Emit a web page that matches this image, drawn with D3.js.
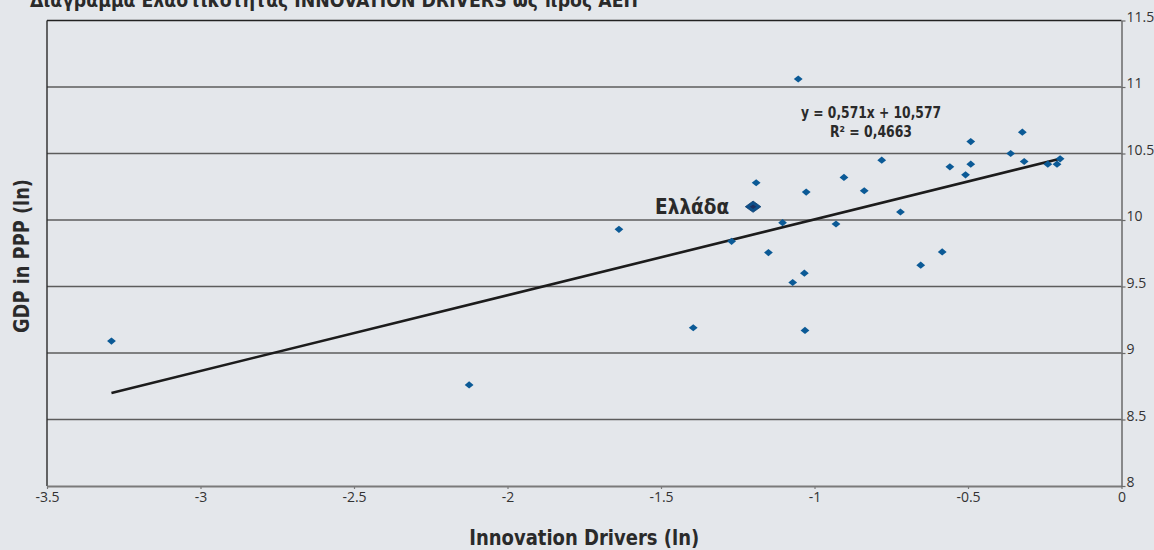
<!DOCTYPE html>
<html>
<head>
<meta charset="utf-8">
<script src="https://cdn.jsdelivr.net/npm/d3@7"></script>
<style>
  html, body { margin: 0; padding: 0; background: #e4e7eb; }
  svg { display: block; }
</style>
</head>
<body>
<svg id="chart" width="1154" height="550"></svg>
<script>
// ---- data ----
const title = "Διάγραμμα Ελαστικότητας INNOVATION DRIVERS ως προς ΑΕΠ";
const xTitle = "Innovation Drivers (ln)";
const yTitle = "GDP in PPP (ln)";
const xTicks = [-3.5, -3, -2.5, -2, -1.5, -1, -0.5, 0];
const xTickLabels = ["-3.5", "-3", "-2.5", "-2", "-1.5", "-1", "-0.5", "0"];
const yTicks = [8, 8.5, 9, 9.5, 10, 10.5, 11, 11.5];
const yTickLabels = ["8", "8.5", "9", "9.5", "10", "10.5", "11", "11.5"];

const innovation = [-3.29, -2.125, -1.053, -0.323, -0.491, -0.361, -0.317, -0.491,
  -0.24, -0.21, -0.20, -0.559, -0.508, -0.781, -0.904, -0.838, -1.027, -1.19,
  -0.72, -1.104, -0.93, -1.637, -1.27, -1.15, -1.033, -1.071, -0.654, -0.584,
  -1.395, -1.031];
const gdp = [9.09, 8.76, 11.06, 10.66, 10.59, 10.50, 10.44, 10.42,
  10.42, 10.42, 10.46, 10.40, 10.34, 10.45, 10.32, 10.22, 10.21, 10.28,
  10.06, 9.98, 9.97, 9.93, 9.84, 9.755, 9.60, 9.53, 9.66, 9.76,
  9.19, 9.17];
const greeceName = ["Ελλάδα"];
const greeceX = [-1.20];
const greeceY = [10.10];

const trendX = [-3.29, -0.20];
const trendY = [8.70, 10.46];
const equationLines = ["y = 0,571x + 10,577", "R² = 0,4663"];

// ---- drawing ----
const svg = d3.select("#chart");
const x = d3.scaleLinear().domain([-3.5, 0]).range([47, 1121.5]);
const y = d3.scaleLinear().domain([8, 11.5]).range([486, 20.5]);
const ink = "#2a2a2a";
const narrow = "'Liberation Sans Narrow','DejaVu Sans Condensed','Open Sans',sans-serif";

// title (partly cut off at the top in the reference)
svg.append("text")
  .attr("x", 30).attr("y", 7)
  .attr("textLength", 608).attr("lengthAdjust", "spacingAndGlyphs")
  .style("font-family", narrow)
  .style("font-weight", "bold").style("font-size", "19px")
  .attr("fill", ink).text(title);

// gridlines
svg.append("g").selectAll("line").data(yTicks.filter(d => d > 8)).join("line")
  .attr("x1", x(-3.5)).attr("x2", x(0))
  .attr("y1", d => y(d)).attr("y2", d => y(d))
  .attr("stroke", d => d === 11.5 ? "#222" : "#5c5c5c")
  .attr("stroke-width", d => d === 11.5 ? 1.6 : 1.3);

// left border
svg.append("line")
  .attr("x1", x(-3.5)).attr("x2", x(-3.5)).attr("y1", y(11.5)).attr("y2", y(8))
  .attr("stroke", "#2a2a2a").attr("stroke-width", 1.4);

// bottom axis
const xAxis = svg.append("g").attr("transform", `translate(0,${y(8)})`)
  .call(d3.axisBottom(x).tickValues(xTicks).tickSize(3).tickSizeOuter(0)
    .tickFormat((d, i) => xTickLabels[i]));
xAxis.select(".domain").attr("stroke", "#7a7a7a").attr("stroke-width", 2);
xAxis.selectAll(".tick line").attr("stroke", "#7a7a7a").attr("stroke-width", 1.2);
xAxis.selectAll(".tick text")
  .attr("y", 6).attr("dy", "0.71em")
  .style("font-family", "'Open Sans',sans-serif").style("font-size", "14px")
  .attr("fill", "#333");

// right axis
const yAxis = svg.append("g").attr("transform", `translate(${x(0)},0)`)
  .call(d3.axisRight(y).tickValues(yTicks).tickSize(4).tickSizeOuter(0)
    .tickFormat((d, i) => yTickLabels[i]));
yAxis.select(".domain").attr("stroke", "#6a6a6a").attr("stroke-width", 1.5);
yAxis.selectAll(".tick line").attr("stroke", "#6a6a6a").attr("stroke-width", 1.2);
yAxis.selectAll(".tick text")
  .attr("x", 5).attr("dy", "0.05em")
  .style("font-family", "'Open Sans',sans-serif").style("font-size", "14px")
  .attr("fill", "#333");

// trendline
svg.append("path")
  .datum(trendX.map((d, i) => [d, trendY[i]]))
  .attr("d", d3.line().x(d => x(d[0])).y(d => y(d[1])))
  .attr("fill", "none").attr("stroke", "#1c1c1c").attr("stroke-width", 2.6);

// points (diamonds)
const diamond = (w, h) => `M0,${-h}L${w},0L0,${h}L${-w},0Z`;
svg.append("g").selectAll("path").data(innovation.map((d, i) => [d, gdp[i]])).join("path")
  .attr("transform", d => `translate(${x(d[0])},${y(d[1])})`)
  .attr("d", diamond(4.4, 3.6))
  .attr("fill", "#0b5a96");

// Greece
svg.append("g").selectAll("path").data(greeceX.map((d, i) => [d, greeceY[i]])).join("path")
  .attr("transform", d => `translate(${x(d[0])},${y(d[1])})`)
  .attr("d", diamond(7.8, 5.6))
  .attr("fill", "#0d4f8a").attr("stroke", "#0a3d6e").attr("stroke-width", 0.8);
svg.append("g").selectAll("path.c").data(greeceX.map((d, i) => [d, greeceY[i]])).join("path")
  .attr("transform", d => `translate(${x(d[0])},${y(d[1])})`)
  .attr("d", diamond(3.2, 2.2))
  .attr("fill", "#1c2f5e");

svg.append("g").selectAll("text").data(greeceName).join("text")
  .attr("x", (d, i) => x(greeceX[i]) - 98).attr("y", (d, i) => y(greeceY[i]) + 7)
  .attr("textLength", 74).attr("lengthAdjust", "spacingAndGlyphs")
  .style("font-family", narrow)
  .style("font-weight", "bold").style("font-size", "21px")
  .attr("fill", ink).text(d => d);

// equation
const eqWidths = [140, 82];
svg.append("g").selectAll("text").data(equationLines).join("text")
  .attr("x", 871).attr("y", (d, i) => 118 + i * 18.5)
  .attr("text-anchor", "middle")
  .attr("textLength", (d, i) => eqWidths[i]).attr("lengthAdjust", "spacingAndGlyphs")
  .style("font-family", narrow)
  .style("font-weight", "bold").style("font-size", "15.5px")
  .attr("fill", ink).text(d => d);

// axis titles
svg.append("text")
  .attr("x", x(-1.75)).attr("y", 545)
  .attr("text-anchor", "middle")
  .attr("textLength", 230).attr("lengthAdjust", "spacingAndGlyphs")
  .style("font-family", narrow)
  .style("font-weight", "bold").style("font-size", "21px")
  .attr("fill", ink).text(xTitle);

svg.append("text")
  .attr("transform", "translate(29,256) rotate(-90)")
  .attr("text-anchor", "middle")
  .attr("textLength", 154).attr("lengthAdjust", "spacingAndGlyphs")
  .style("font-family", narrow)
  .style("font-weight", "bold").style("font-size", "21px")
  .attr("fill", ink).text(yTitle);
</script>
</body>
</html>
